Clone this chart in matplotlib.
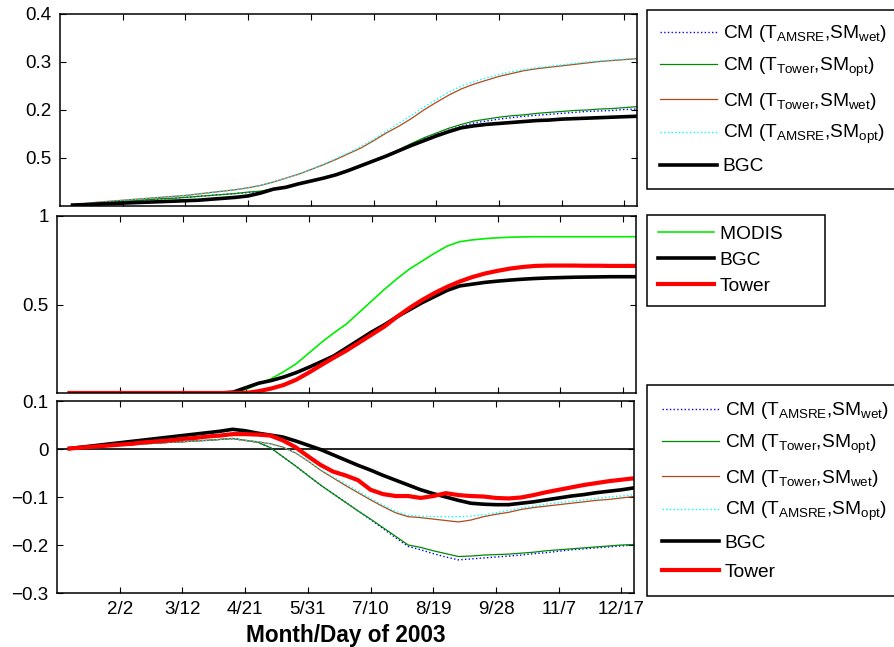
import numpy as np
import matplotlib
matplotlib.use("Agg")
import matplotlib.pyplot as plt

plt.rcParams['font.family'] = ['Liberation Sans', 'DejaVu Sans']
plt.rcParams['mathtext.fontset'] = 'custom'
plt.rcParams['mathtext.rm'] = 'Liberation Sans'
plt.rcParams['mathtext.it'] = 'Liberation Sans:italic'
plt.rcParams['mathtext.bf'] = 'Liberation Sans:bold'
plt.rcParams['axes.unicode_minus'] = True

# 8-day periods of 2003
period = np.arange(1, 47)
tick_pos = [5, 10, 15, 20, 25, 30, 35, 40, 45]
tick_labels = ['2/2', '3/12', '4/21', '5/31', '7/10', '8/19', '9/28', '11/7', '12/17']

# --- top panel: cumulative values ---
top_bgc = [0.002, 0.003, 0.004, 0.005, 0.006, 0.007, 0.008, 0.009, 0.010, 0.011,
           0.012, 0.014, 0.016, 0.018, 0.021, 0.027, 0.035, 0.039, 0.046, 0.052,
           0.058, 0.065, 0.074, 0.084, 0.094, 0.104, 0.115, 0.126, 0.136, 0.146,
           0.155, 0.163, 0.167, 0.170, 0.172, 0.174, 0.176, 0.178, 0.179, 0.181,
           0.182, 0.183, 0.184, 0.185, 0.186, 0.187]
top_tower_opt = [0.002, 0.004, 0.006, 0.008, 0.010, 0.011, 0.013, 0.015, 0.016, 0.018,
                 0.020, 0.022, 0.024, 0.026, 0.029, 0.031, 0.036, 0.040, 0.046, 0.052,
                 0.058, 0.065, 0.074, 0.084, 0.094, 0.105, 0.117, 0.130, 0.142, 0.152,
                 0.162, 0.170, 0.177, 0.181, 0.185, 0.188, 0.190, 0.193, 0.195, 0.197,
                 0.199, 0.200, 0.202, 0.203, 0.205, 0.207]
top_amsre_wet = [0.002, 0.004, 0.006, 0.008, 0.010, 0.011, 0.013, 0.015, 0.016, 0.018,
                 0.020, 0.022, 0.024, 0.026, 0.028, 0.030, 0.035, 0.040, 0.046, 0.052,
                 0.058, 0.065, 0.074, 0.084, 0.094, 0.105, 0.116, 0.127, 0.139, 0.149,
                 0.158, 0.166, 0.173, 0.177, 0.181, 0.184, 0.187, 0.189, 0.191, 0.193,
                 0.195, 0.197, 0.198, 0.199, 0.201, 0.202]
top_tower_wet = [0.002, 0.005, 0.008, 0.010, 0.012, 0.014, 0.016, 0.018, 0.020, 0.022,
                 0.025, 0.028, 0.031, 0.034, 0.038, 0.043, 0.050, 0.058, 0.066, 0.076,
                 0.086, 0.097, 0.109, 0.121, 0.136, 0.152, 0.166, 0.182, 0.200, 0.216,
                 0.231, 0.244, 0.254, 0.262, 0.270, 0.276, 0.282, 0.286, 0.289, 0.292,
                 0.295, 0.298, 0.301, 0.303, 0.305, 0.307]
top_amsre_opt = [0.002, 0.005, 0.008, 0.010, 0.012, 0.014, 0.016, 0.018, 0.020, 0.022,
                 0.025, 0.028, 0.031, 0.034, 0.038, 0.043, 0.050, 0.058, 0.066, 0.076,
                 0.087, 0.099, 0.111, 0.124, 0.139, 0.156, 0.172, 0.189, 0.206, 0.222,
                 0.237, 0.250, 0.259, 0.267, 0.274, 0.280, 0.284, 0.288, 0.291, 0.294,
                 0.297, 0.300, 0.302, 0.304, 0.306, 0.308]

# --- middle panel ---
mid_modis = [0, 0, 0, 0, 0, 0, 0, 0, 0, 0, 0, 0, 0, 0, 0.02, 0.05, 0.08, 0.12, 0.165, 0.225,
             0.285, 0.34, 0.39, 0.455, 0.52, 0.585, 0.645, 0.70, 0.745, 0.79,
             0.83, 0.855, 0.865, 0.872, 0.877, 0.88, 0.882, 0.883, 0.883, 0.883,
             0.883, 0.883, 0.883, 0.883, 0.883, 0.883]
mid_bgc = [0, 0, 0, 0, 0, 0, 0, 0, 0, 0, 0, 0, 0, 0.005, 0.03, 0.055, 0.07, 0.09, 0.115, 0.145,
           0.177, 0.21, 0.255, 0.30, 0.345, 0.385, 0.43, 0.47, 0.51, 0.545,
           0.58, 0.605, 0.615, 0.625, 0.632, 0.638, 0.643, 0.647, 0.65, 0.652,
           0.654, 0.655, 0.656, 0.657, 0.657, 0.657]
mid_tower = [0, 0, 0, 0, 0, 0, 0, 0, 0, 0, 0, 0, 0, 0, 0, 0.01, 0.025, 0.045, 0.075, 0.115,
             0.158, 0.20, 0.24, 0.285, 0.33, 0.375, 0.43, 0.48, 0.525, 0.565,
             0.60, 0.63, 0.655, 0.675, 0.69, 0.703, 0.712, 0.718, 0.72, 0.72,
             0.72, 0.719, 0.719, 0.718, 0.718, 0.718]

# --- bottom panel: differences ---
bot_bgc = [0.001, 0.004, 0.007, 0.010, 0.013, 0.016, 0.019, 0.022, 0.025, 0.028,
           0.031, 0.034, 0.037, 0.041, 0.038, 0.033, 0.029, 0.025, 0.017, 0.008,
           -0.001, -0.012, -0.023, -0.034, -0.044, -0.055, -0.065, -0.075, -0.085, -0.093,
           -0.100, -0.107, -0.113, -0.115, -0.116, -0.116, -0.113, -0.110, -0.106, -0.102,
           -0.098, -0.095, -0.091, -0.088, -0.085, -0.081]
bot_tower = [0.001, 0.003, 0.005, 0.007, 0.009, 0.011, 0.014, 0.016, 0.018, 0.021,
             0.023, 0.026, 0.028, 0.031, 0.031, 0.030, 0.028, 0.018, 0.004, -0.015,
             -0.033, -0.047, -0.055, -0.065, -0.085, -0.094, -0.098, -0.098, -0.102, -0.098,
             -0.092, -0.096, -0.098, -0.099, -0.102, -0.103, -0.101, -0.096, -0.090, -0.085,
             -0.080, -0.075, -0.071, -0.067, -0.064, -0.061]
bot_tower_opt = [0.001, 0.003, 0.004, 0.006, 0.008, 0.009, 0.011, 0.012, 0.014, 0.015,
                 0.017, 0.018, 0.020, 0.022, 0.018, 0.014, 0.003, -0.016, -0.035, -0.055,
                 -0.075, -0.093, -0.111, -0.129, -0.146, -0.164, -0.182, -0.200, -0.205, -0.212,
                 -0.218, -0.224, -0.223, -0.221, -0.220, -0.219, -0.217, -0.215, -0.212, -0.210,
                 -0.208, -0.206, -0.204, -0.202, -0.200, -0.199]
bot_amsre_wet = [0.001, 0.003, 0.004, 0.006, 0.008, 0.009, 0.011, 0.012, 0.014, 0.015,
                 0.017, 0.018, 0.020, 0.021, 0.018, 0.014, 0.003, -0.016, -0.035, -0.055,
                 -0.075, -0.093, -0.111, -0.129, -0.147, -0.166, -0.185, -0.203, -0.210, -0.218,
                 -0.225, -0.231, -0.229, -0.227, -0.225, -0.223, -0.221, -0.218, -0.216, -0.213,
                 -0.210, -0.208, -0.206, -0.204, -0.202, -0.200]
bot_tower_wet = [0.001, 0.003, 0.004, 0.006, 0.008, 0.009, 0.011, 0.012, 0.014, 0.015,
                 0.017, 0.018, 0.020, 0.022, 0.018, 0.015, 0.011, 0.004, -0.008, -0.025,
                 -0.044, -0.060, -0.076, -0.091, -0.106, -0.120, -0.133, -0.141, -0.143, -0.146,
                 -0.149, -0.152, -0.148, -0.141, -0.136, -0.132, -0.126, -0.122, -0.119, -0.116,
                 -0.113, -0.110, -0.107, -0.105, -0.102, -0.099]
bot_amsre_opt = [0.001, 0.003, 0.004, 0.006, 0.008, 0.009, 0.011, 0.012, 0.014, 0.015,
                 0.017, 0.018, 0.020, 0.022, 0.018, 0.015, 0.011, 0.004, -0.008, -0.025,
                 -0.043, -0.058, -0.073, -0.088, -0.103, -0.117, -0.130, -0.138, -0.140, -0.141,
                 -0.141, -0.141, -0.140, -0.137, -0.133, -0.128, -0.123, -0.119, -0.115, -0.112,
                 -0.109, -0.106, -0.103, -0.100, -0.098, -0.095]

lab_amsre_wet = r'CM (T$_{\mathrm{AMSRE}}$,SM$_{\mathrm{wet}}$)'
lab_tower_opt = r'CM (T$_{\mathrm{Tower}}$,SM$_{\mathrm{opt}}$)'
lab_tower_wet = r'CM (T$_{\mathrm{Tower}}$,SM$_{\mathrm{wet}}$)'
lab_amsre_opt = r'CM (T$_{\mathrm{AMSRE}}$,SM$_{\mathrm{opt}}$)'

c_green = '#008a00'
c_brown = '#b04a1a'
c_modis = '#00ee00'

W, H = 895, 647
fig = plt.figure(figsize=(W / 100, H / 100), dpi=100)

def box(l, t, r, b):
    return [l / W, 1 - b / H, (r - l) / W, (b - t) / H]

ax1 = fig.add_axes(box(60, 14, 637, 206))
ax2 = fig.add_axes(box(57, 216, 636, 393))
ax3 = fig.add_axes(box(57, 401, 634, 593))

def style(ax):
    ax.set_xlim(0, 46)
    ax.set_xticks(tick_pos)
    ax.tick_params(direction='in', top=True, right=True, length=4, width=0.8,
                   labelsize=13.5, pad=6)
    for s in ax.spines.values():
        s.set_linewidth(1.1)

def add_legend(ax, top_px, spacing, bpad):
    leg = ax.legend(loc='upper left', bbox_to_anchor=(647 / W, 1 - top_px / H),
                    bbox_transform=fig.transFigure, borderaxespad=0, fontsize=13.8,
                    handlelength=2.95, handletextpad=0.3, labelspacing=spacing,
                    borderpad=bpad, fancybox=False, framealpha=1, edgecolor='black')
    leg.get_frame().set_linewidth(1.1)
    return leg

# top
ax1.plot(period, top_amsre_wet, ':', color='blue', lw=1, label=lab_amsre_wet)
ax1.plot(period, top_tower_opt, '-', color=c_green, lw=0.9, label=lab_tower_opt)
ax1.plot(period, top_tower_wet, '-', color=c_brown, lw=0.9, label=lab_tower_wet)
ax1.plot(period, top_amsre_opt, ':', color='cyan', lw=1, label=lab_amsre_opt)
ax1.plot(period, top_bgc, '-', color='black', lw=2.6, label='BGC')
style(ax1)
ax1.set_ylim(0, 0.4)
ax1.set_yticks([0.1, 0.2, 0.3, 0.4])
ax1.set_yticklabels(['0.5', '0.2', '0.3', '0.4'])
ax1.set_xticklabels([])
add_legend(ax1, 10, 0.6, 0.7)

# middle
ax2.plot(period, mid_modis, '-', color=c_modis, lw=1.2, label='MODIS\u00a0\u00a0\u00a0\u00a0\u00a0\u00a0')
ax2.plot(period, mid_bgc, '-', color='black', lw=2.6, label='BGC')
ax2.plot(period, mid_tower, '-', color='red', lw=3, label='Tower')
style(ax2)
ax2.set_ylim(0, 1)
ax2.set_yticks([0.5, 1])
ax2.set_yticklabels(['0.5', '1'])
ax2.set_xticklabels([])
add_legend(ax2, 215, 0.45, 0.55)

# bottom
ax3.axhline(0, color='black', lw=1.2)
ax3.plot(period, bot_amsre_wet, ':', color='blue', lw=1, label=lab_amsre_wet)
ax3.plot(period, bot_tower_opt, '-', color=c_green, lw=0.9, label=lab_tower_opt)
ax3.plot(period, bot_tower_wet, '-', color=c_brown, lw=0.9, label=lab_tower_wet)
ax3.plot(period, bot_amsre_opt, ':', color='cyan', lw=1, label=lab_amsre_opt)
ax3.plot(period, bot_bgc, '-', color='black', lw=2.6, label='BGC')
ax3.plot(period, bot_tower, '-', color='red', lw=3, label='Tower')
style(ax3)
ax3.set_ylim(-0.3, 0.1)
ax3.set_yticks([-0.3, -0.2, -0.1, 0, 0.1])
ax3.set_yticklabels(['\u22120.3', '\u22120.2', '\u22120.1', '0', '0.1'])
ax3.set_xticklabels(tick_labels)
ax3.set_xlabel('Month/Day of 2003', fontsize=16.3, fontweight='bold', labelpad=4)
add_legend(ax3, 385, 0.6, 0.8)

fig.savefig('out.png', dpi=100)
